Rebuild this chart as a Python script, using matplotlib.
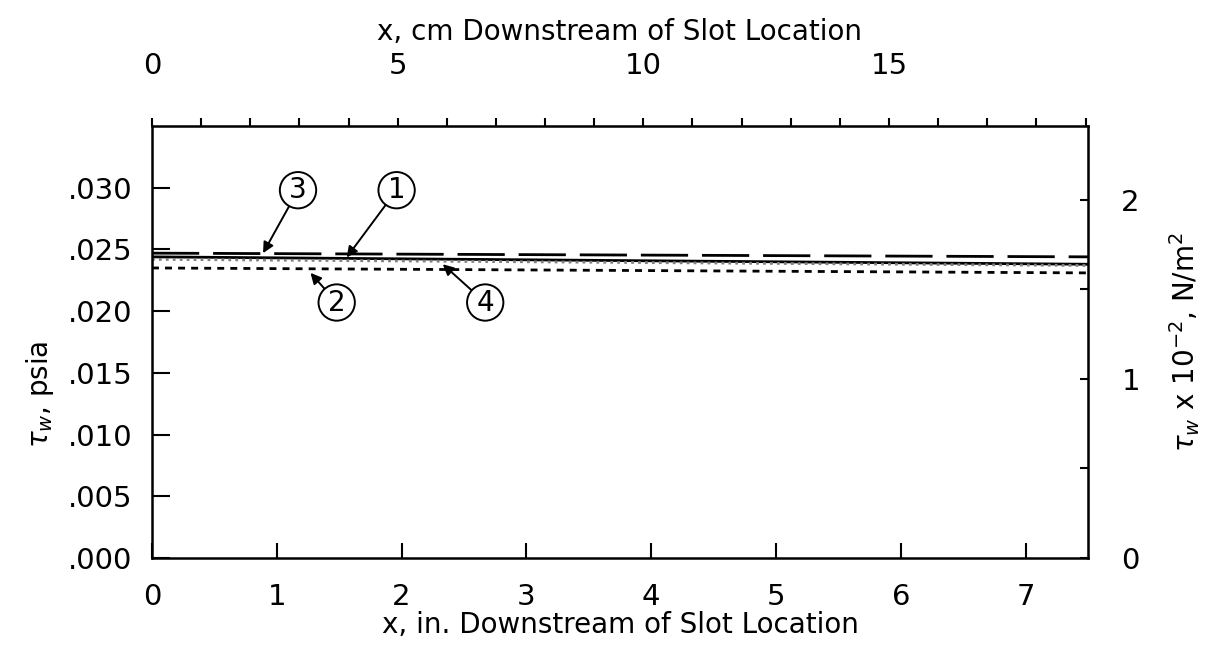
import numpy as np
import matplotlib
matplotlib.use("Agg")
import matplotlib.pyplot as plt
from matplotlib.ticker import FixedLocator, MultipleLocator

plt.rcParams['font.family'] = ['DejaVu Sans']
plt.rcParams['mathtext.fontset'] = 'dejavusans'

## wall shear stress along the plate, psia
x_in = [0.0, 7.5]
tau_1 = [0.0244, 0.0238]
tau_2 = [0.0235, 0.0231]
tau_3 = [0.0247, 0.0244]
tau_4 = [0.0242, 0.0237]

psi_ticks = [0.000, 0.005, 0.010, 0.015, 0.020, 0.025, 0.030]
psi_labels = ['.000', '.005', '.010', '.015', '.020', '.025', '.030']
in_ticks = [0, 1, 2, 3, 4, 5, 6, 7]
cm_ticks = [0, 5, 10, 15]
nm2_ticks = [0, 1, 2]

## curve callouts: (label, circle x, circle y, arrow tip x, arrow tip y)
callouts = [
    ('3', 1.17, 0.0298, 0.89, 0.02470),
    ('1', 1.96, 0.0298, 1.56, 0.02435),
    ('2', 1.48, 0.0207, 1.27, 0.02310),
    ('4', 2.67, 0.0207, 2.33, 0.02380),
]

PSI_TO_NM2 = 6894.76

fig = plt.figure(figsize=(12.12, 6.53), dpi=100)
ax = fig.add_axes([0.1254, 0.1455, 0.7723, 0.6615])

ax.plot(x_in, tau_3, color='black', lw=2.0, linestyle=(0, (17, 5)))
ax.plot(x_in, tau_1, color='black', lw=2.0, linestyle='-')
ax.plot(x_in, tau_4, color='0.5', lw=2.0, linestyle=(0, (1, 1.5)))
ax.plot(x_in, tau_2, color='black', lw=2.0, linestyle=(0, (2.5, 2.2)))

ax.set_xlim(0, 7.5)
ax.set_ylim(0, 0.035)

ax.set_xticks(in_ticks)
ax.set_xticklabels([str(t) for t in in_ticks])
ax.set_yticks(psi_ticks)
ax.set_yticklabels(psi_labels)
ax.tick_params(axis='x', direction='in', length=11, width=1.5, pad=18, labelsize=21)
ax.tick_params(axis='y', direction='in', length=13, width=1.5, pad=14, labelsize=21)

for s in ax.spines.values():
    s.set_linewidth(1.8)

ax.set_xlabel('x, in. Downstream of Slot Location', fontsize=20, va='center')
ax.xaxis.set_label_coords(0.5, -0.155)
ax.set_ylabel(r'$\tau_w$, psia', fontsize=20, va='center')
ax.yaxis.set_label_coords(-0.12, 0.38)

# top axis in centimetres
top = ax.secondary_xaxis('top', functions=(lambda v: v * 2.54, lambda v: v / 2.54))
top.xaxis.set_major_locator(FixedLocator(cm_ticks))
top.xaxis.set_minor_locator(MultipleLocator(1))
top.tick_params(which='both', direction='out', length=6, width=1.5, pad=27, labelsize=21)
top.set_xlabel('x, cm Downstream of Slot Location', fontsize=20, labelpad=9)

# right axis in N/m^2 x 10^-2
right = ax.secondary_yaxis('right', functions=(lambda v: v * PSI_TO_NM2 / 100,
                                               lambda v: v * 100 / PSI_TO_NM2))
right.yaxis.set_major_locator(FixedLocator(nm2_ticks))
right.yaxis.set_minor_locator(MultipleLocator(0.5))
right.tick_params(which='both', direction='in', length=6, width=1.5, pad=24, labelsize=21)
right.set_ylabel(r'$\tau_w$ x 10$^{-2}$, N/m$^2$', fontsize=20, labelpad=20)

for lab, cx, cy, tx, ty in callouts:
    ax.annotate(lab, xy=(tx, ty), xytext=(cx, cy), ha='center', va='center',
                fontsize=20,
                bbox=dict(boxstyle='circle,pad=0.15', fc='white', ec='black', lw=1.4),
                arrowprops=dict(arrowstyle='-|>', color='black', lw=1.4,
                                mutation_scale=16, shrinkA=0, shrinkB=0))

fig.savefig('out.png', dpi=100, facecolor='white')
